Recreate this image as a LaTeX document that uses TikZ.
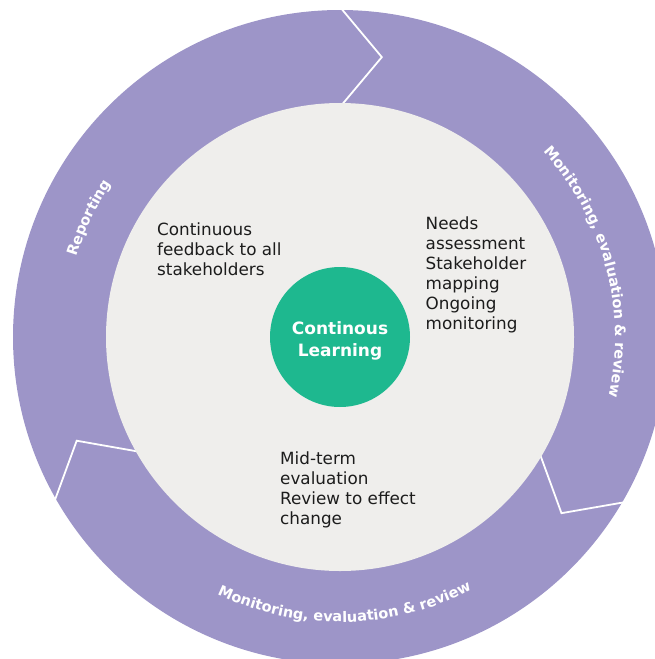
\documentclass[tikz,border=0pt]{standalone}
\usepackage{fontspec}
\setmainfont{DejaVu Sans}
\usetikzlibrary{decorations.text}
\definecolor{ring}{HTML}{9D95C8}
\definecolor{disc}{HTML}{EFEEEC}
\definecolor{core}{HTML}{1EB88F}
\definecolor{ink}{HTML}{1C1C1C}
\begin{document}
\begin{tikzpicture}[x=1pt,y=1pt,
  sep/.style={draw=white, line width=1.8pt, line join=miter},
  body/.style={anchor=north west, inner sep=0pt, align=left, text=ink, font=\fontsize{16.8}{20}\selectfont},
  ringtext/.style={decorate, decoration={text along path, text align=center, text color=white, text={|\fontsize{14.5}{16}\selectfont\bfseries|#1}}}
]
\clip (0,0) rectangle (655,-659);
\coordinate (C) at (340,-337);
\fill[ring] (C) circle[radius=327];
\foreach \a in {90,-30,210}
  \draw[sep] ([shift={(\a:330)}]C) -- ([shift={(\a-8.5:283)}]C) -- ([shift={(\a:230)}]C);
\fill[disc] (C) circle[radius=234];
\node[circle, fill=core, minimum size=140pt, inner sep=0pt] (core) at (C) {};
\node[align=center, text=white, font=\fontsize{17}{21.7}\selectfont\bfseries] (corelabel) at (340,-341) {Continous\\Learning};
\node[body] (feedback) at (157,-222.9) {Continuous\\feedback to all\\stakeholders};
\node[body] (needs) at (425.5,-216.5) {Needs\\assessment\\Stakeholder\\mapping\\Ongoing\\monitoring};
\node[body] (midterm) at (280,-451.2) {Mid-term\\evaluation\\Review to effect\\change};
\path[ringtext={Monitoring, evaluation {\&} review}] ([shift={(60:275)}]C) arc[start angle=60, end angle=-30, radius=275];
\path[ringtext={Reporting}] ([shift={(199.6:275)}]C) arc[start angle=199.6, end angle=109.6, radius=275];
\path[ringtext={Monitoring, evaluation {\&} review}] ([shift={(-149:285)}]C) arc[start angle=-149, end angle=-29, radius=285];
\end{tikzpicture}
\end{document}
